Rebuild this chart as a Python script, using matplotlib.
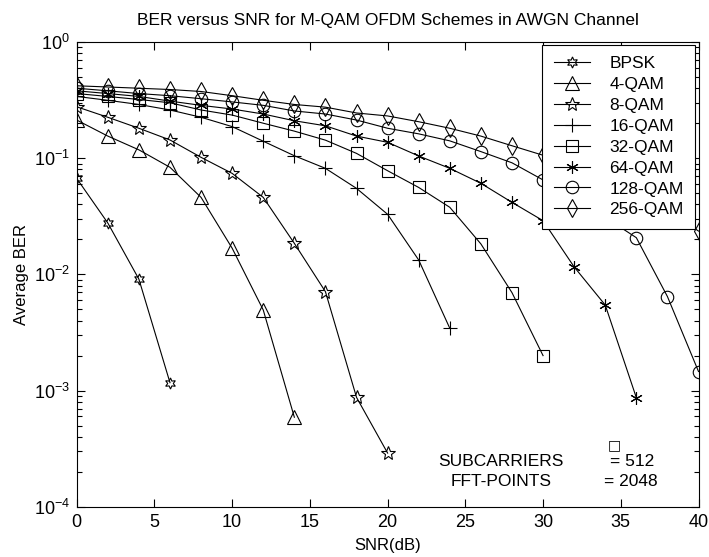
import matplotlib
matplotlib.use("Agg")
from matplotlib import pyplot as plt
import numpy as np

plt.rcParams['font.family'] = 'Liberation Sans'
plt.rcParams['mathtext.fontset'] = 'custom'
plt.rcParams['mathtext.rm'] = 'Liberation Sans'
plt.rcParams['mathtext.it'] = 'Liberation Sans'

# BER values, SNR in steps of 2 dB starting at 0
snr_step = 2
labels = ['BPSK', '4-QAM', '8-QAM', '16-QAM', '32-QAM', '64-QAM', '128-QAM', '256-QAM']

ber_bpsk = [0.067, 0.0277, 0.0091, 0.00117]
ber_4qam = [0.213, 0.155, 0.118, 0.0835, 0.046, 0.0168, 0.00494, 0.00059]
ber_8qam = [0.277, 0.225, 0.181, 0.1435, 0.1017, 0.074, 0.046, 0.0185, 0.0071,
            0.000875, 0.00029]
ber_16qam = [0.34, 0.315, 0.29, 0.26, 0.225, 0.187, 0.14, 0.105, 0.0818, 0.055,
             0.0329, 0.0133, 0.00344]
ber_32qam = [0.36, 0.34, 0.32, 0.30, 0.26, 0.235, 0.20, 0.171, 0.143, 0.110,
             0.078, 0.056, 0.0378, 0.0183, 0.00697, 0.00200]
ber_64qam = [0.38, 0.36, 0.34, 0.31, 0.285, 0.265, 0.24, 0.21, 0.19, 0.155,
             0.137, 0.1045, 0.0818, 0.0608, 0.0417, 0.029, 0.0116, 0.00545, 0.00087]
ber_128qam = [0.40, 0.38, 0.36, 0.345, 0.325, 0.305, 0.285, 0.255, 0.24, 0.213,
              0.181, 0.162, 0.141, 0.114, 0.0913, 0.065, 0.045, 0.031, 0.0207,
              0.00645, 0.00146]
ber_256qam = [0.42, 0.41, 0.40, 0.39, 0.375, 0.345, 0.315, 0.29, 0.275, 0.245,
              0.231, 0.206, 0.181, 0.155, 0.128, 0.106, 0.088, 0.07, 0.052,
              0.036, 0.0236]

all_ber = [ber_bpsk, ber_4qam, ber_8qam, ber_16qam, ber_32qam, ber_64qam,
           ber_128qam, ber_256qam]

# matlab-ish markers: h, ^, p, +, s, *, o, d
markers = [(6, 1, 0), '^', '*', '+', 's', (6, 2, 0), 'o', 'd']
msizes = [8, 10, 10, 10, 9, 9, 9, 9]

fig = plt.figure(figsize=(7.09, 5.57), dpi=100)
ax = fig.add_axes([0.1082, 0.0901, 0.877, 0.8345])

for ber, lab, m, ms in zip(all_ber, labels, markers, msizes):
    snr = np.arange(len(ber)) * snr_step
    ax.semilogy(snr, ber, color='black', lw=0.8, marker=m, ms=ms,
                mfc='none', mec='black', mew=0.8, label=lab)

ax.set_xlim(0, 40)
ax.set_ylim(1e-4, 1)
ax.set_xticks(np.arange(0, 41, 5))
ax.tick_params(which='both', direction='in', top=True, right=True,
               labelsize=13, width=0.8)
ax.tick_params(which='major', length=6, pad=5)
ax.tick_params(which='minor', length=3.5)
for s in ax.spines.values():
    s.set_linewidth(0.8)

ax.set_title('BER versus SNR for M-QAM OFDM Schemes in AWGN Channel',
             fontsize=12.5, pad=12)
ax.set_xlabel('SNR(dB)', fontsize=12, labelpad=5)
ax.set_ylabel('Average BER', fontsize=12, labelpad=3)

leg = ax.legend(loc='upper right', bbox_to_anchor=(0.994, 0.994),
                borderaxespad=0, fancybox=False, framealpha=1,
                edgecolor='black', fontsize=12.5, handlelength=2.1,
                labelspacing=0.33, borderpad=0.65, handletextpad=1.1)
leg.get_frame().set_linewidth(0.8)

ax.text(27.3, 2.44e-4, 'SUBCARRIERS', ha='center', va='center', fontsize=12.5)
ax.text(27.3, 1.64e-4, 'FFT-POINTS', ha='center', va='center', fontsize=12.5)
ax.text(34.3, 2.44e-4, '= 512', ha='left', va='center', fontsize=12.5)
ax.text(33.9, 1.64e-4, '= 2048', ha='left', va='center', fontsize=12.5)
ax.text(34.6, 2.98e-4, '\u25a1', ha='center', va='bottom', fontsize=10,
        family='DejaVu Sans')

fig.savefig('out.png', dpi=100)
